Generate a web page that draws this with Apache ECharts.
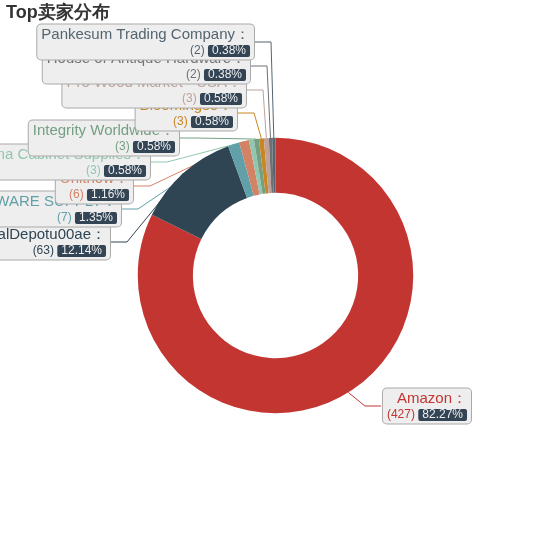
<!DOCTYPE html>
<html>
<head>
<meta charset="utf-8">
<style>
  html, body { margin: 0; padding: 0; background: #fff; }
  #main { width: 551px; height: 551px; }
</style>
<script src="https://cdn.jsdelivr.net/npm/echarts@6/dist/echarts.min.js"></script>
</head>
<body>
<div id="main"></div>
<script>
  // 卖家名称及订单数
  const sellers = [
    'Amazon',
    'GlobalDepotu00ae',
    'KING HARDWARE SUPPLY',
    'Unithow',
    'Alma Cabinet Supplies',
    'Integrity Worldwide',
    'Bloomingso',
    'Pro Wood Market - USA',
    'House of Antique Hardware',
    'Pankesum Trading Company'
  ];
  const counts = [427, 63, 7, 6, 3, 3, 3, 3, 2, 2];
  const colors = ['#c23531', '#2f4554', '#61a0a8', '#d48265', '#91c7ae',
    '#749f83', '#ca8622', '#bda29a', '#6e7074', '#546570'];

  // 标签摆放（标签框右边缘、垂直中心），按数据顺序
  const labelRight = [471, 110, 121, 133, 150, 179, 237, 246, 250, 254];
  const labelMidY = [406, 242, 209, 186, 162, 138, 113, 90, 66, 42];

  const chart = echarts.init(document.getElementById('main'));
  const option = {
    color: colors,
    title: {
      text: 'Top卖家分布',
      left: 1,
      top: -1,
      textStyle: { fontSize: 18, fontWeight: 'bold', color: '#333' }
    },
    series: [{
      name: '卖家',
      type: 'pie',
      radius: ['30%', '50%'],
      center: ['50%', '50%'],
      avoidLabelOverlap: false,
      label: {
        formatter: '{b|{b}：}\n{c|({c}) }{per|{d}%}',
        color: 'inherit',
        backgroundColor: '#eee',
        borderColor: '#aaa',
        borderWidth: 1,
        borderRadius: 4,
        padding: [1, 4],
        align: 'right',
        overflow: 'none',
        rich: {
          b: { fontSize: 15, lineHeight: 18, align: 'right' },
          c: { fontSize: 12, lineHeight: 15, align: 'right' },
          per: {
            color: '#eee',
            backgroundColor: '#334455',
            padding: [0, 4],
            lineHeight: 13,
            borderRadius: 2,
            fontSize: 12,
            align: 'right'
          }
        }
      },
      labelLine: { length: 15, length2: 16 },
      labelLayout: function (params) {
        const i = params.dataIndex;
        const right = labelRight[i];
        const y = labelMidY[i];
        const start = params.labelLinePoints ? params.labelLinePoints[0] : [0, 0];
        let edge, knee;
        if (i === 0) {
          edge = right - params.labelRect.width;
          knee = edge - 16;
        } else {
          edge = right;
          knee = edge + 17;
        }
        return {
          x: right,
          y: y,
          align: 'right',
          verticalAlign: 'middle',
          labelLinePoints: [start, [knee, y], [edge, y]]
        };
      },
      data: sellers.map((name, i) => ({ name: name, value: counts[i] }))
    }]
  };
  chart.setOption(option);
</script>
</body>
</html>
